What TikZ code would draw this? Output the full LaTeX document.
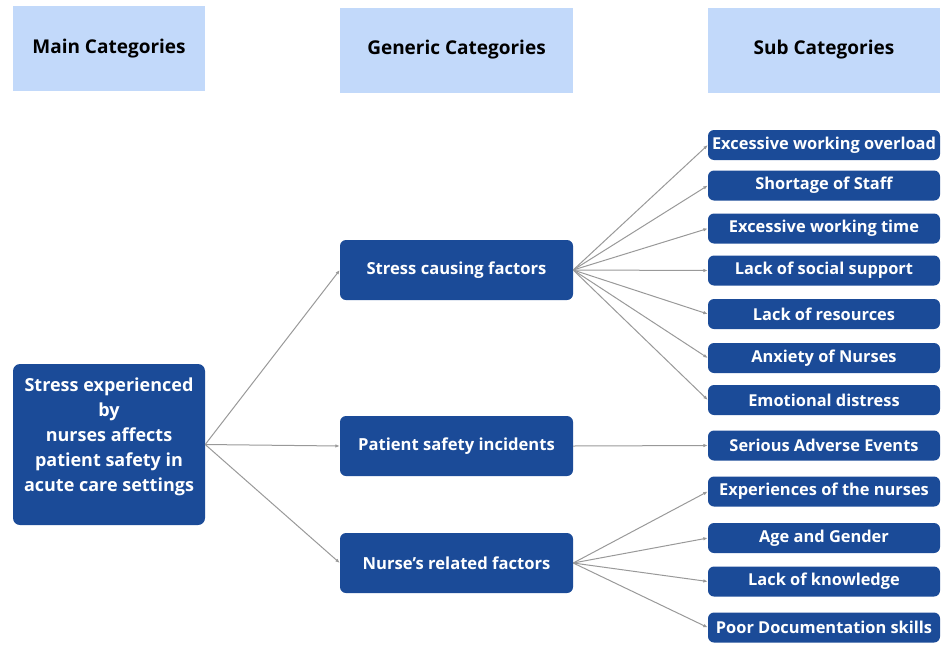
\documentclass[tikz,border=0pt]{standalone}
\usepackage{fontspec}
\setmainfont{Open Sans}[BoldFont={* Bold}]
\usetikzlibrary{arrows.meta}
\definecolor{headblue}{HTML}{C2D9FA}
\definecolor{boxblue}{HTML}{1B4B98}
\definecolor{linkgray}{HTML}{999999}
\begin{document}
\begin{tikzpicture}[
    x=1pt, y=-1pt,
    header/.style={fill=headblue, minimum width=#1, minimum height=85pt, inner sep=0pt,
        font=\fontsize{19}{22}\selectfont\bfseries, text=black},
    header/.default=233pt,
    mainbox/.style={fill=boxblue, rounded corners=7pt, text=white, align=center,
        minimum width=192pt, minimum height=161pt, inner sep=0pt,
        font=\fontsize{18}{25}\selectfont\bfseries},
    genbox/.style={fill=boxblue, rounded corners=6pt, text=white,
        minimum width=233pt, minimum height=60pt, inner sep=0pt,
        font=\fontsize{16.6}{19}\selectfont\bfseries},
    subbox/.style={fill=boxblue, rounded corners=6pt, text=white,
        minimum width=232pt, minimum height=30pt, inner sep=0pt,
        font=\fontsize{16.4}{19}\selectfont\bfseries},
    link/.style={draw=linkgray, line width=1pt, -{Latex[length=4.5pt,width=3.5pt]}}
]
\useasboundingbox (0,0) rectangle (944,645);

% Header row
\node[header=192pt] (HMain) at (109,48.5) {Main Categories};
\node[header] (HGen) at (456.5,50) {Generic Categories};
\node[header=232pt] (HSub) at (824,50) {Sub Categories};

% Main category
\node[mainbox] (M) at (109,444.5) {Stress experienced\\ by\\ nurses affects\\ patient safety in\\ acute care settings\\[-5pt]\mbox{}};

% Generic categories
\node[genbox] (G1) at (456.5,270) {Stress causing factors};
\node[genbox] (G2) at (456.5,446) {Patient safety incidents};
\node[genbox] (G3) at (456.5,563) {Nurse’s related factors};

% Sub categories
\node[subbox] (S1) at (824,145) {Excessive working overload};
\node[subbox] (S2) at (824,185.5) {Shortage of Staff};
\node[subbox] (S3) at (824,228.5) {Excessive working time};
\node[subbox] (S4) at (824,270.5) {Lack of social support};
\node[subbox] (S5) at (824,314) {Lack of resources};
\node[subbox] (S6) at (824,358) {Anxiety of Nurses};
\node[subbox] (S7) at (824,400) {Emotional distress};
\node[subbox] (S8) at (824,445.5) {Serious Adverse Events};
\node[subbox] (S9) at (824,491.5) {Experiences of the nurses};
\node[subbox] (S10) at (824,538) {Age and Gender};
\node[subbox] (S11) at (824,581.5) {Lack of knowledge};
\node[subbox] (S12) at (824,627.5) {Poor Documentation skills};

% Connections
\foreach \g in {1,2,3}
    \draw[link] (M.east) -- (G\g.west);

\foreach \s in {1,...,7}
    \draw[link] (G1.east) -- (S\s.west);

\draw[link] (G2.east) -- (S8.west);

\foreach \s in {9,...,12}
    \draw[link] (G3.east) -- (S\s.west);

\end{tikzpicture}
\end{document}
